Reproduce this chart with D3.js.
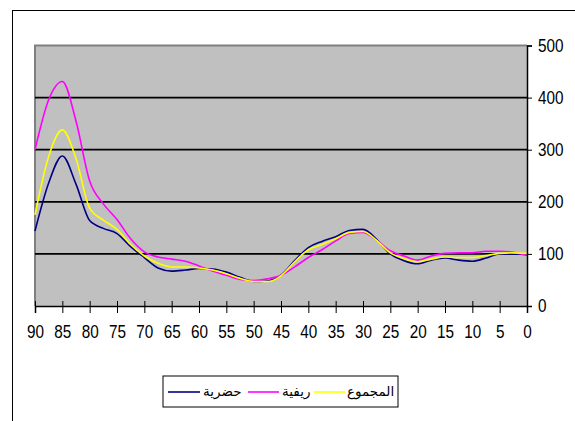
<!DOCTYPE html>
<html><head><meta charset="utf-8">
<script src="https://cdn.jsdelivr.net/npm/d3@7"></script>
<style>
html,body{margin:0;padding:0;background:#fff;}
svg{display:block;}
</style></head>
<body>
<svg id="c" width="575" height="421"></svg>
<script>
const ages = [90,87.5,85,82.5,80,77.5,75,72.5,70,67.5,65,62.5,60,57.5,55,52.5,50,47.5,45,42.5,40,37.5,35,32.5,30,27.5,25,22.5,20,17.5,15,12.5,10,7.5,5,2.5,0];
const urban = [144,236,288,234,164,149,139,114,93,73,67,69,72,71,65,55,47,48,59,87,112,124,133,145,147,128,100,87,81,88,92,88,86,92,100,100,99];
const rural = [300,396,431,355,240,196,166,129,104,94,90,86,77,67,59,51,49,52,59,75,93,108,125,139,141,126,106,96,88,96,101,102,102,105,105,103,97];
const total = [175,287,338,283,188,165,147,118,96,82,75,75,73,69,62,53,47,47,58,85,108,118,129,141,143,126,102,91,85,90,94,93,93,97,101,102,101];
const xTicks = [90,85,80,75,70,65,60,55,50,45,40,35,30,25,20,15,10,5,0];
const yTicks = [0,100,200,300,400,500];
const seriesNames = ["حضرية","ريفية","المجموع"];
const seriesColors = ["#000080","#FF00FF","#FFFF00"];
const seriesData = [urban, rural, total];

const svg = d3.select("#c");
const L = 35, R = 527, T = 45.5, B = 306;
const x = d3.scaleLinear().domain([90,0]).range([L,R]);
const y = d3.scaleLinear().domain([0,500]).range([B,T]);
const numFont = "'Liberation Sans',Arial,sans-serif";
const sx = 0.85;

// outer frame
svg.append("rect").attr("x",12.5).attr("y",10.5).attr("width",700).attr("height",600)
  .attr("fill","none").attr("stroke","#000").attr("stroke-width",1);

// plot area
svg.append("rect").attr("x",L).attr("y",T).attr("width",R-L).attr("height",B-T).attr("fill","#C0C0C0");
svg.append("path").attr("d",`M${L},${B}V${T}H${R}`).attr("fill","none").attr("stroke","#808080").attr("stroke-width",2);

// gridlines
svg.append("g").selectAll("line").data(yTicks.filter(d=>d>0&&d<500)).join("line")
  .attr("x1",L).attr("x2",R).attr("y1",d=>y(d)).attr("y2",d=>y(d))
  .attr("stroke","#000").attr("stroke-width",1.7);

// lines
const line = d3.line().x((d,i)=>x(ages[i])).y(d=>y(d)).curve(d3.curveMonotoneX);
seriesData.forEach((s,k)=>{
  svg.append("path").datum(s).attr("d",line).attr("fill","none")
    .attr("stroke",seriesColors[k]).attr("stroke-width",1.6);
});

// x axis
const xa = svg.append("g").attr("transform",`translate(0,${B})`)
  .call(d3.axisBottom(x).tickValues(xTicks).tickSize(7).tickPadding(12).tickFormat(d3.format("d")));
xa.select(".domain").attr("stroke","#000").attr("stroke-width",1.5);
xa.selectAll(".tick line").attr("stroke","#000").attr("y1",-5);
xa.selectAll("text").attr("font-family",numFont).attr("font-size",18).attr("fill","#000")
  .attr("transform",`scale(${sx},1)`);

// y axis (right)
const ya = svg.append("g").attr("transform",`translate(${R},0)`)
  .call(d3.axisRight(y).tickValues(yTicks).tickSize(5).tickPadding(6).tickFormat(d3.format("d")));
ya.select(".domain").attr("stroke","#000").attr("stroke-width",1.5);
ya.selectAll(".tick line").attr("stroke","#000");
ya.selectAll("text").attr("font-family",numFont).attr("font-size",18).attr("fill","#000")
  .attr("x",11/sx).attr("transform",`scale(${sx},1)`);

// legend
const lg = svg.append("g");
lg.append("rect").attr("x",163).attr("y",376).attr("width",235).attr("height",31)
  .attr("fill","#fff").attr("stroke","#000").attr("stroke-width",1);
const legendItems = [
  {name: seriesNames[0], color: seriesColors[0], x0:168, x1:200, tx:203},
  {name: seriesNames[1], color: seriesColors[1], x0:248, x1:279, tx:282},
  {name: seriesNames[2], color: seriesColors[2], x0:314, x1:345, tx:347}
];
legendItems.forEach(it=>{
  lg.append("line").attr("x1",it.x0).attr("x2",it.x1).attr("y1",392).attr("y2",392)
    .attr("stroke",it.color).attr("stroke-width",1.6);
  lg.append("text").attr("x",it.tx).attr("y",396).attr("font-family","'DejaVu Sans',sans-serif")
    .attr("font-size",13.5).attr("text-anchor","start").attr("direction","ltr").attr("fill","#000").text(it.name);
});
</script>
</body></html>
